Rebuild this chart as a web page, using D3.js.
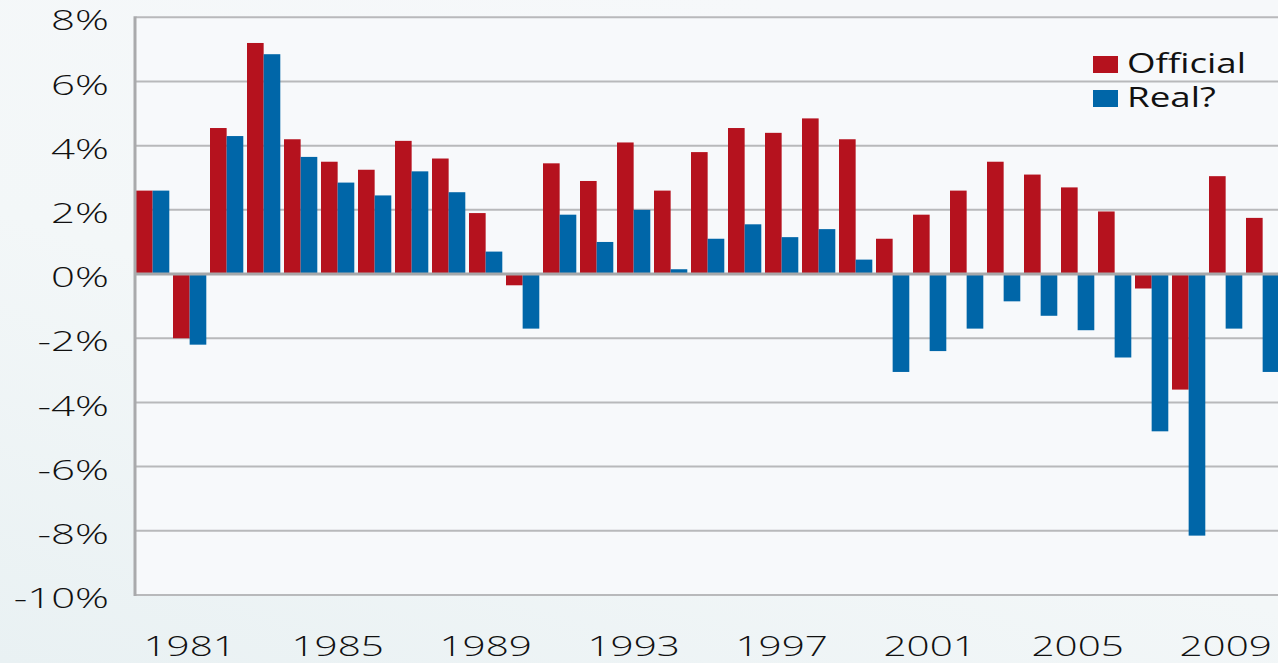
<!DOCTYPE html>
<html><head><meta charset="utf-8">
<script src="https://cdn.jsdelivr.net/npm/d3@7"></script>
<style>
html,body{margin:0;padding:0;background:#f4f7f9;}
svg{display:block;}
text{font-family:"Open Sans",sans-serif;fill:#111;}
</style></head><body>
<svg id="c" width="1278" height="663"></svg>
<script>
const years = [1980,1981,1982,1983,1984,1985,1986,1987,1988,1989,1990,1991,1992,1993,1994,1995,1996,1997,1998,1999,2000,2001,2002,2003,2004,2005,2006,2007,2008,2009,2010];
const official = [2.6,-2.0,4.55,7.2,4.2,3.5,3.25,4.15,3.6,1.9,-0.35,3.45,2.9,4.1,2.6,3.8,4.55,4.4,4.85,4.2,1.1,1.85,2.6,3.5,3.1,2.7,1.95,-0.45,-3.6,3.05,1.75];
const real = [2.6,-2.2,4.3,6.85,3.65,2.85,2.45,3.2,2.55,0.7,-1.7,1.85,1.0,2.0,0.15,1.1,1.55,1.15,1.4,0.45,-3.05,-2.4,-1.7,-0.85,-1.3,-1.75,-2.6,-4.9,-8.15,-1.7,-3.05];
const seriesNames = ["Official","Real?"];
const colors = ["#b5121e","#0066a8"];
const yTicks = [8,6,4,2,0,-2,-4,-6,-8,-10];
const xTickYears = [1981,1985,1989,1993,1997,2001,2005,2009];

const SXA = 1.5;   // horizontal stretch of axis labels
const SXL = 1.36;  // horizontal stretch of legend labels
const svg = d3.select("#c");
const defs = svg.append("defs");
const grad = defs.append("linearGradient").attr("id","bg").attr("x1","0").attr("y1","1").attr("x2","0.6").attr("y2","0");
grad.append("stop").attr("offset","0").attr("stop-color","#e9f1f3");
grad.append("stop").attr("offset","0.5").attr("stop-color","#f3f7f8");
grad.append("stop").attr("offset","1").attr("stop-color","#f6f8fa");
svg.append("rect").attr("width",1278).attr("height",663).attr("fill","url(#bg)");

const x = d3.scaleBand().domain(years).range([136,1279.3]).paddingInner(0.1).paddingOuter(0).align(0);
const x1 = d3.scaleBand().domain(seriesNames).range([0,x.bandwidth()]);
const y = d3.scaleLinear().domain([-10,8]).range([595,17.3]);

svg.append("rect").attr("x",136).attr("y",y(8)).attr("width",1278-136).attr("height",y(-10)-y(8)).attr("fill","#f7f9fb");

// gridlines
svg.append("g").selectAll("line").data(yTicks.filter(d=>d!==0)).join("line")
  .attr("x1",136).attr("x2",1278).attr("y1",d=>y(d)).attr("y2",d=>y(d))
  .attr("stroke","#b8b9bb").attr("stroke-width",2);

// bars
const rows = years.map((yr,i)=>({year:yr, vals:[official[i], real[i]]}));
const g = svg.append("g");
rows.forEach(r=>{
  r.vals.forEach((v,j)=>{
    g.append("rect")
      .attr("x", x(r.year)+x1(seriesNames[j]))
      .attr("width", x1.bandwidth())
      .attr("y", y(Math.max(0,v)))
      .attr("height", Math.abs(y(v)-y(0)))
      .attr("fill", colors[j]);
  });
});

// zero line
svg.append("line").attr("x1",136).attr("x2",1278).attr("y1",y(0)).attr("y2",y(0)).attr("stroke","#a7a8aa").attr("stroke-width",3);
// left axis line
svg.append("line").attr("x1",135).attr("x2",135).attr("y1",y(8)-1).attr("y2",y(-10)+1).attr("stroke","#a9aaac").attr("stroke-width",3);

// y axis labels
const yAxis = d3.axisLeft(y).tickValues(yTicks).tickSize(0).tickFormat(d=>d+"%");
const ya = svg.append("g").attr("transform","translate(109,0)").call(yAxis);
ya.select(".domain").remove();
ya.selectAll("text").attr("x",0).attr("dy","0.45em").attr("transform",`scale(${SXA},1)`)
  .style("font-size","28px").style("font-weight","300").style("font-family","'Open Sans',sans-serif").attr("fill","#111");

// x axis labels
const xAxis = d3.axisBottom(x).tickValues(xTickYears).tickSize(0);
const xa = svg.append("g").attr("transform","translate(0,655.5)").call(xAxis);
xa.select(".domain").remove();
xa.selectAll("text").attr("y",0).attr("dy",0).attr("transform",`scale(${SXA},1)`)
  .style("font-size","27px").style("font-weight","300").style("font-family","'Open Sans',sans-serif").attr("fill","#111");

// legend
const lg = svg.append("g");
seriesNames.forEach((n,i)=>{
  const yy = 56 + i*34;
  lg.append("rect").attr("x",1093).attr("y",yy).attr("width",25).attr("height",17).attr("fill",colors[i]);
  lg.append("text").attr("transform",`translate(1127,${yy+17}) scale(${SXL},1)`)
    .style("font-size","27px").text(n);
});
</script></body></html>
